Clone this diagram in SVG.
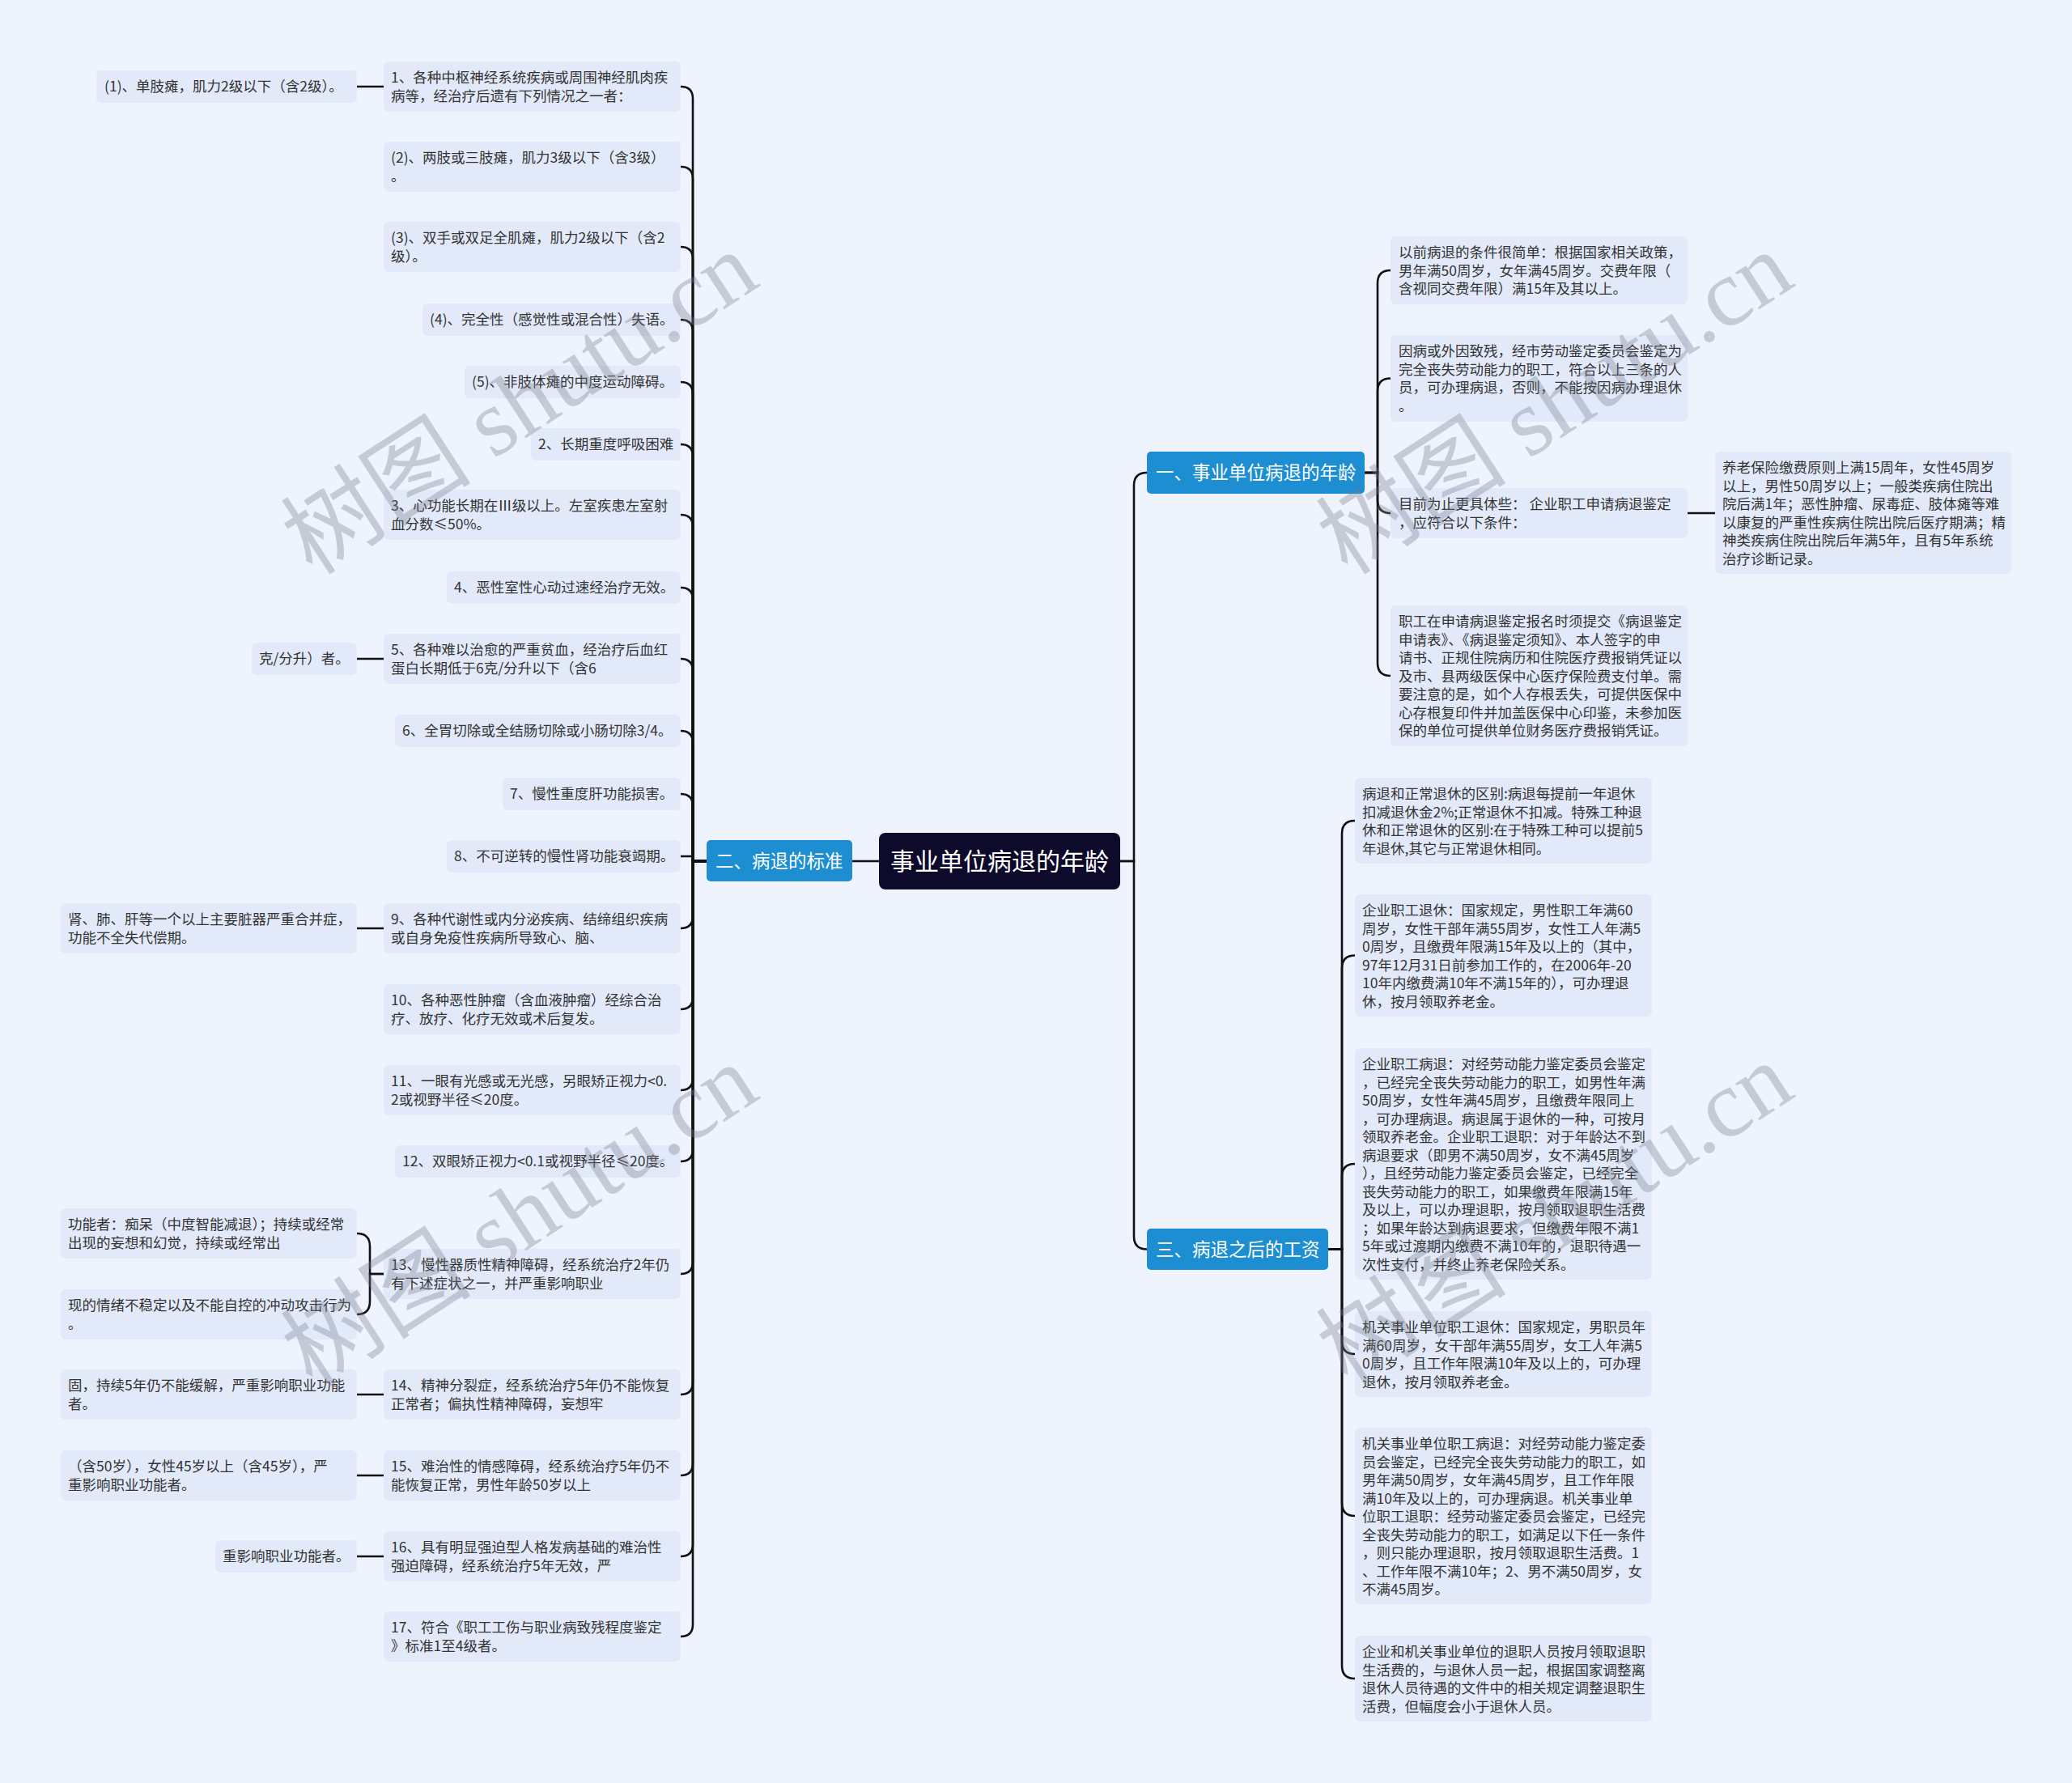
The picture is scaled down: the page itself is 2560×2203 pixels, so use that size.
<svg xmlns="http://www.w3.org/2000/svg" width="2560" height="2203" viewBox="0 0 2560 2203">
<style>
.t{font-family:"Noto Sans CJK SC","Noto Sans",sans-serif;font-size:17.5px;fill:#333}
.b{fill:#e2eafa}
.hb{fill:#1d8ed1}
.ht{font-family:"Noto Sans CJK SC","Noto Sans",sans-serif;font-size:22.5px;fill:#fff}
.rt{font-family:"Noto Sans CJK SC","Noto Sans",sans-serif;font-size:30px;fill:#fff}
.c{fill:none;stroke:#111;stroke-width:2.6}
.wm{font-family:"Liberation Serif","Noto Sans CJK SC",serif;font-size:118px;fill:#787d8c;fill-opacity:0.35}
</style>
<rect width="2560" height="2203" fill="#eef3fe"/>
<g id="connectors">
<path class="c" d="M1086 1064H1053"/>
<path class="c" d="M873 1064H856V122Q856 107 841 107"/>
<path class="c" d="M873 1064H856V221Q856 206 841 206"/>
<path class="c" d="M873 1064H856V320Q856 305 841 305"/>
<path class="c" d="M873 1064H856V410Q856 395 841 395"/>
<path class="c" d="M873 1064H856V487Q856 472 841 472"/>
<path class="c" d="M873 1064H856V564Q856 549 841 549"/>
<path class="c" d="M873 1064H856V651Q856 636 841 636"/>
<path class="c" d="M873 1064H856V741Q856 726 841 726"/>
<path class="c" d="M873 1064H856V829Q856 814 841 814"/>
<path class="c" d="M873 1064H856V918Q856 903 841 903"/>
<path class="c" d="M873 1064H856V996Q856 981 841 981"/>
<path class="c" d="M873 1064H856V1058H841"/>
<path class="c" d="M873 1064H856V1132Q856 1147 841 1147"/>
<path class="c" d="M873 1064H856V1232Q856 1247 841 1247"/>
<path class="c" d="M873 1064H856V1332Q856 1347 841 1347"/>
<path class="c" d="M873 1064H856V1420Q856 1435 841 1435"/>
<path class="c" d="M873 1064H856V1559Q856 1574 841 1574"/>
<path class="c" d="M873 1064H856V1708Q856 1723 841 1723"/>
<path class="c" d="M873 1064H856V1808Q856 1823 841 1823"/>
<path class="c" d="M873 1064H856V1908Q856 1923 841 1923"/>
<path class="c" d="M873 1064H856V2007Q856 2022 841 2022"/>
<path class="c" d="M474 107H441"/>
<path class="c" d="M474 814H441"/>
<path class="c" d="M474 1147H441"/>
<path class="c" d="M474 1574H457V1540Q457 1524 441 1524"/>
<path class="c" d="M474 1574H457V1608Q457 1624 441 1624"/>
<path class="c" d="M474 1723H441"/>
<path class="c" d="M474 1823H441"/>
<path class="c" d="M474 1923H441"/>
<path class="c" d="M1384 1064H1401V600Q1401 584 1417 584"/>
<path class="c" d="M1384 1064H1401V1527.5Q1401 1543.5 1417 1543.5"/>
<path class="c" d="M1686 584H1702V350Q1702 334 1718 334"/>
<path class="c" d="M1686 584H1702V483.5Q1702 467.5 1718 467.5"/>
<path class="c" d="M1686 584H1702V618Q1702 634 1718 634"/>
<path class="c" d="M1686 584H1702V819Q1702 835 1718 835"/>
<path class="c" d="M2085 634H2119"/>
<path class="c" d="M1641 1543.5H1658V1030Q1658 1014 1674 1014"/>
<path class="c" d="M1641 1543.5H1658V1196.5Q1658 1180.5 1674 1180.5"/>
<path class="c" d="M1641 1543.5H1658V1454Q1658 1438 1674 1438"/>
<path class="c" d="M1641 1543.5H1658V1657Q1658 1673 1674 1673"/>
<path class="c" d="M1641 1543.5H1658V1857Q1658 1873 1674 1873"/>
<path class="c" d="M1641 1543.5H1658V2058Q1658 2074 1674 2074"/>
</g>
<g id="root"><rect x="1086" y="1029" width="298" height="70" rx="8" fill="#0d0a2c"/><text class="rt" x="1235" y="1075" text-anchor="middle">事业单位病退的年龄</text></g>
<g id="b2"><rect class="hb" x="873" y="1038" width="180" height="51" rx="5"/><text class="ht" x="884" y="1072">二、病退的标准</text></g>
<g id="b1"><rect class="hb" x="1417" y="558" width="269" height="52" rx="5"/><text class="ht" x="1428" y="592">一、事业单位病退的年龄</text></g>
<g id="b3"><rect class="hb" x="1417" y="1518" width="224" height="51" rx="5"/><text class="ht" x="1428" y="1552">三、病退之后的工资</text></g>

<g id="n1"><rect class="b" x="474" y="76" width="367" height="62" rx="6"/><text class="t" x="483" y="102"><tspan x="483">1、各种中枢神经系统疾病或周围神经肌肉疾</tspan><tspan x="483" dy="22.5">病等，经治疗后遗有下列情况之一者：</tspan></text></g>
<g id="n2"><rect class="b" x="474" y="175" width="367" height="62" rx="6"/><text class="t" x="483" y="201"><tspan x="483">(2)、两肢或三肢瘫，肌力3级以下（含3级）</tspan><tspan x="483" dy="22.5">。</tspan></text></g>
<g id="n3"><rect class="b" x="474" y="274" width="367" height="62" rx="6"/><text class="t" x="483" y="300"><tspan x="483">(3)、双手或双足全肌瘫，肌力2级以下（含2</tspan><tspan x="483" dy="22.5">级）。</tspan></text></g>
<g id="n4"><rect class="b" x="522" y="375" width="319" height="40" rx="6"/><text class="t" x="531" y="401">(4)、完全性（感觉性或混合性）失语。</text></g>
<g id="n5"><rect class="b" x="574" y="452" width="267" height="40" rx="6"/><text class="t" x="583" y="478">(5)、非肢体瘫的中度运动障碍。</text></g>
<g id="n6"><rect class="b" x="656" y="529" width="185" height="40" rx="6"/><text class="t" x="665" y="555">2、长期重度呼吸困难</text></g>
<g id="n7"><rect class="b" x="474" y="605" width="367" height="62" rx="6"/><text class="t" x="483" y="631"><tspan x="483">3、心功能长期在Ⅲ级以上。左室疾患左室射</tspan><tspan x="483" dy="22.5">血分数≤50%。</tspan></text></g>
<g id="n8"><rect class="b" x="552" y="706" width="289" height="40" rx="6"/><text class="t" x="561" y="732">4、恶性室性心动过速经治疗无效。</text></g>
<g id="n9"><rect class="b" x="474" y="783" width="367" height="62" rx="6"/><text class="t" x="483" y="809"><tspan x="483">5、各种难以治愈的严重贫血，经治疗后血红</tspan><tspan x="483" dy="22.5">蛋白长期低于6克/分升以下（含6</tspan></text></g>
<g id="n10"><rect class="b" x="488" y="883" width="353" height="40" rx="6"/><text class="t" x="497" y="909">6、全胃切除或全结肠切除或小肠切除3/4。</text></g>
<g id="n11"><rect class="b" x="621" y="961" width="220" height="40" rx="6"/><text class="t" x="630" y="987">7、慢性重度肝功能损害。</text></g>
<g id="n12"><rect class="b" x="552" y="1038" width="289" height="40" rx="6"/><text class="t" x="561" y="1064">8、不可逆转的慢性肾功能衰竭期。</text></g>
<g id="n13"><rect class="b" x="474" y="1116" width="367" height="62" rx="6"/><text class="t" x="483" y="1142"><tspan x="483">9、各种代谢性或内分泌疾病、结缔组织疾病</tspan><tspan x="483" dy="22.5">或自身免疫性疾病所导致心、脑、</tspan></text></g>
<g id="n14"><rect class="b" x="474" y="1216" width="367" height="62" rx="6"/><text class="t" x="483" y="1242"><tspan x="483">10、各种恶性肿瘤（含血液肿瘤）经综合治</tspan><tspan x="483" dy="22.5">疗、放疗、化疗无效或术后复发。</tspan></text></g>
<g id="n15"><rect class="b" x="474" y="1316" width="367" height="62" rx="6"/><text class="t" x="483" y="1342"><tspan x="483">11、一眼有光感或无光感，另眼矫正视力&lt;0.</tspan><tspan x="483" dy="22.5">2或视野半径≤20度。</tspan></text></g>
<g id="n16"><rect class="b" x="488" y="1415" width="353" height="40" rx="6"/><text class="t" x="497" y="1441">12、双眼矫正视力&lt;0.1或视野半径≤20度。</text></g>
<g id="n17"><rect class="b" x="474" y="1543" width="367" height="62" rx="6"/><text class="t" x="483" y="1569"><tspan x="483">13、慢性器质性精神障碍，经系统治疗2年仍</tspan><tspan x="483" dy="22.5">有下述症状之一，并严重影响职业</tspan></text></g>
<g id="n18"><rect class="b" x="474" y="1692" width="367" height="62" rx="6"/><text class="t" x="483" y="1718"><tspan x="483">14、精神分裂症，经系统治疗5年仍不能恢复</tspan><tspan x="483" dy="22.5">正常者；偏执性精神障碍，妄想牢</tspan></text></g>
<g id="n19"><rect class="b" x="474" y="1792" width="367" height="62" rx="6"/><text class="t" x="483" y="1818"><tspan x="483">15、难治性的情感障碍，经系统治疗5年仍不</tspan><tspan x="483" dy="22.5">能恢复正常，男性年龄50岁以上</tspan></text></g>
<g id="n20"><rect class="b" x="474" y="1892" width="367" height="62" rx="6"/><text class="t" x="483" y="1918"><tspan x="483">16、具有明显强迫型人格发病基础的难治性</tspan><tspan x="483" dy="22.5">强迫障碍，经系统治疗5年无效，严</tspan></text></g>
<g id="n21"><rect class="b" x="474" y="1991" width="367" height="62" rx="6"/><text class="t" x="483" y="2017"><tspan x="483">17、符合《职工工伤与职业病致残程度鉴定</tspan><tspan x="483" dy="22.5">》标准1至4级者。</tspan></text></g>

<g id="c1"><rect class="b" x="119" y="87" width="322" height="40" rx="6"/><text class="t" x="129" y="113">(1)、单肢瘫，肌力2级以下（含2级）。</text></g>
<g id="c9"><rect class="b" x="311" y="794" width="130" height="40" rx="6"/><text class="t" x="320" y="820">克/分升）者。</text></g>
<g id="c13"><rect class="b" x="75" y="1116" width="366" height="62" rx="6"/><text class="t" x="84" y="1142"><tspan x="84">肾、肺、肝等一个以上主要脏器严重合并症，</tspan><tspan x="84" dy="22.5">功能不全失代偿期。</tspan></text></g>
<g id="c17a"><rect class="b" x="75" y="1493" width="366" height="62" rx="6"/><text class="t" x="84" y="1519"><tspan x="84">功能者：痴呆（中度智能减退）；持续或经常</tspan><tspan x="84" dy="22.5">出现的妄想和幻觉，持续或经常出</tspan></text></g>
<g id="c17b"><rect class="b" x="75" y="1593" width="366" height="62" rx="6"/><text class="t" x="84" y="1619"><tspan x="84">现的情绪不稳定以及不能自控的冲动攻击行为</tspan><tspan x="84" dy="22.5">。</tspan></text></g>
<g id="c18"><rect class="b" x="75" y="1692" width="366" height="62" rx="6"/><text class="t" x="84" y="1718"><tspan x="84">固，持续5年仍不能缓解，严重影响职业功能</tspan><tspan x="84" dy="22.5">者。</tspan></text></g>
<g id="c19"><rect class="b" x="75" y="1792" width="366" height="62" rx="6"/><text class="t" x="84" y="1818"><tspan x="84">（含50岁），女性45岁以上（含45岁），严</tspan><tspan x="84" dy="22.5">重影响职业功能者。</tspan></text></g>
<g id="c20"><rect class="b" x="266" y="1903" width="175" height="40" rx="6"/><text class="t" x="275" y="1929">重影响职业功能者。</text></g>

<g id="r1"><rect class="b" x="1718" y="292" width="367" height="84" rx="6"/><text class="t" x="1728" y="318"><tspan x="1728">以前病退的条件很简单：根据国家相关政策，</tspan><tspan x="1728" dy="22.5">男年满50周岁，女年满45周岁。交费年限（</tspan><tspan x="1728" dy="22.5">含视同交费年限）满15年及其以上。</tspan></text></g>
<g id="r2"><rect class="b" x="1718" y="414" width="367" height="107" rx="6"/><text class="t" x="1728" y="440"><tspan x="1728">因病或外因致残，经市劳动鉴定委员会鉴定为</tspan><tspan x="1728" dy="22.5">完全丧失劳动能力的职工，符合以上三条的人</tspan><tspan x="1728" dy="22.5">员，可办理病退，否则，不能按因病办理退休</tspan><tspan x="1728" dy="22.5">。</tspan></text></g>
<g id="r3"><rect class="b" x="1718" y="603" width="367" height="62" rx="6"/><text class="t" x="1728" y="629"><tspan x="1728">目前为止更具体些：  企业职工申请病退鉴定</tspan><tspan x="1728" dy="22.5">，应符合以下条件：</tspan></text></g>
<g id="r4"><rect class="b" x="1718" y="748" width="367" height="174" rx="6"/><text class="t" x="1728" y="774"><tspan x="1728">职工在申请病退鉴定报名时须提交《病退鉴定</tspan><tspan x="1728" dy="22.5">申请表》、《病退鉴定须知》、本人签字的申</tspan><tspan x="1728" dy="22.5">请书、正规住院病历和住院医疗费报销凭证以</tspan><tspan x="1728" dy="22.5">及市、县两级医保中心医疗保险费支付单。需</tspan><tspan x="1728" dy="22.5">要注意的是，如个人存根丢失，可提供医保中</tspan><tspan x="1728" dy="22.5">心存根复印件并加盖医保中心印鉴，未参加医</tspan><tspan x="1728" dy="22.5">保的单位可提供单位财务医疗费报销凭证。</tspan></text></g>
<g id="r3c"><rect class="b" x="2119" y="558" width="366" height="151" rx="6"/><text class="t" x="2128" y="584"><tspan x="2128">养老保险缴费原则上满15周年，女性45周岁</tspan><tspan x="2128" dy="22.5">以上，男性50周岁以上；一般类疾病住院出</tspan><tspan x="2128" dy="22.5">院后满1年；恶性肿瘤、尿毒症、肢体瘫等难</tspan><tspan x="2128" dy="22.5">以康复的严重性疾病住院出院后医疗期满；精</tspan><tspan x="2128" dy="22.5">神类疾病住院出院后年满5年，且有5年系统</tspan><tspan x="2128" dy="22.5">治疗诊断记录。</tspan></text></g>

<g id="s1"><rect class="b" x="1674" y="961" width="367" height="106" rx="6"/><text class="t" x="1683" y="987"><tspan x="1683">病退和正常退休的区别:病退每提前一年退休</tspan><tspan x="1683" dy="22.5">扣减退休金2%;正常退休不扣减。特殊工种退</tspan><tspan x="1683" dy="22.5">休和正常退休的区别:在于特殊工种可以提前5</tspan><tspan x="1683" dy="22.5">年退休,其它与正常退休相同。</tspan></text></g>
<g id="s2"><rect class="b" x="1674" y="1105" width="367" height="151" rx="6"/><text class="t" x="1683" y="1131"><tspan x="1683">企业职工退休：国家规定，男性职工年满60</tspan><tspan x="1683" dy="22.5">周岁，女性干部年满55周岁，女性工人年满5</tspan><tspan x="1683" dy="22.5">0周岁，且缴费年限满15年及以上的（其中，</tspan><tspan x="1683" dy="22.5">97年12月31日前参加工作的，在2006年-20</tspan><tspan x="1683" dy="22.5">10年内缴费满10年不满15年的），可办理退</tspan><tspan x="1683" dy="22.5">休，按月领取养老金。</tspan></text></g>
<g id="s3"><rect class="b" x="1674" y="1295" width="367" height="286" rx="6"/><text class="t" x="1683" y="1321"><tspan x="1683">企业职工病退：对经劳动能力鉴定委员会鉴定</tspan><tspan x="1683" dy="22.5">，已经完全丧失劳动能力的职工，如男性年满</tspan><tspan x="1683" dy="22.5">50周岁，女性年满45周岁，且缴费年限同上</tspan><tspan x="1683" dy="22.5">，可办理病退。病退属于退休的一种，可按月</tspan><tspan x="1683" dy="22.5">领取养老金。企业职工退职：对于年龄达不到</tspan><tspan x="1683" dy="22.5">病退要求（即男不满50周岁，女不满45周岁</tspan><tspan x="1683" dy="22.5">），且经劳动能力鉴定委员会鉴定，已经完全</tspan><tspan x="1683" dy="22.5">丧失劳动能力的职工，如果缴费年限满15年</tspan><tspan x="1683" dy="22.5">及以上，可以办理退职，按月领取退职生活费</tspan><tspan x="1683" dy="22.5">；如果年龄达到病退要求，但缴费年限不满1</tspan><tspan x="1683" dy="22.5">5年或过渡期内缴费不满10年的，退职待遇一</tspan><tspan x="1683" dy="22.5">次性支付，并终止养老保险关系。</tspan></text></g>
<g id="s4"><rect class="b" x="1674" y="1620" width="367" height="106" rx="6"/><text class="t" x="1683" y="1646"><tspan x="1683">机关事业单位职工退休：国家规定，男职员年</tspan><tspan x="1683" dy="22.5">满60周岁，女干部年满55周岁，女工人年满5</tspan><tspan x="1683" dy="22.5">0周岁，且工作年限满10年及以上的，可办理</tspan><tspan x="1683" dy="22.5">退休，按月领取养老金。</tspan></text></g>
<g id="s5"><rect class="b" x="1674" y="1764" width="367" height="218" rx="6"/><text class="t" x="1683" y="1790"><tspan x="1683">机关事业单位职工病退：对经劳动能力鉴定委</tspan><tspan x="1683" dy="22.5">员会鉴定，已经完全丧失劳动能力的职工，如</tspan><tspan x="1683" dy="22.5">男年满50周岁，女年满45周岁，且工作年限</tspan><tspan x="1683" dy="22.5">满10年及以上的，可办理病退。机关事业单</tspan><tspan x="1683" dy="22.5">位职工退职：经劳动鉴定委员会鉴定，已经完</tspan><tspan x="1683" dy="22.5">全丧失劳动能力的职工，如满足以下任一条件</tspan><tspan x="1683" dy="22.5">，则只能办理退职，按月领取退职生活费。1</tspan><tspan x="1683" dy="22.5">、工作年限不满10年；2、男不满50周岁，女</tspan><tspan x="1683" dy="22.5">不满45周岁。</tspan></text></g>
<g id="s6"><rect class="b" x="1674" y="2021" width="367" height="106" rx="6"/><text class="t" x="1683" y="2047"><tspan x="1683">企业和机关事业单位的退职人员按月领取退职</tspan><tspan x="1683" dy="22.5">生活费的，与退休人员一起，根据国家调整离</tspan><tspan x="1683" dy="22.5">退休人员待遇的文件中的相关规定调整退职生</tspan><tspan x="1683" dy="22.5">活费，但幅度会小于退休人员。</tspan></text></g>

<g id="watermarks">
<text class="wm" text-anchor="middle" transform="translate(664,532) rotate(-33)">树图 shutu.cn</text>
<text class="wm" text-anchor="middle" transform="translate(1943,532) rotate(-33)">树图 shutu.cn</text>
<text class="wm" text-anchor="middle" transform="translate(664,1536) rotate(-33)">树图 shutu.cn</text>
<text class="wm" text-anchor="middle" transform="translate(1943,1534) rotate(-33)">树图 shutu.cn</text>
</g>
</svg>
